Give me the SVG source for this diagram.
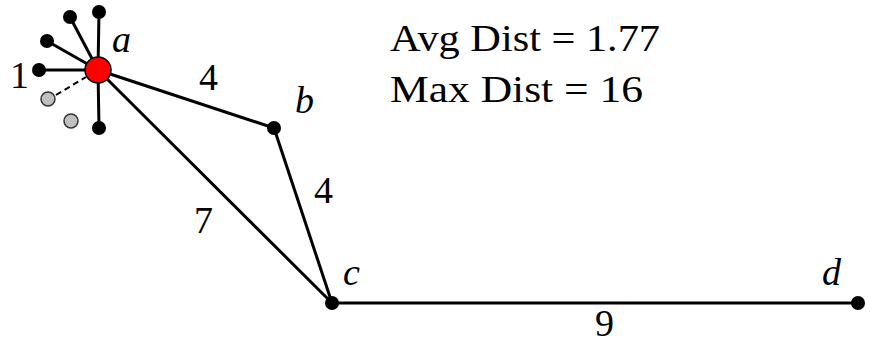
<svg xmlns="http://www.w3.org/2000/svg" width="870" height="343" viewBox="0 0 870 343">
<style>
.e{stroke:#000;stroke-width:3;fill:none}
.d{stroke:#000;stroke-width:2;stroke-dasharray:6,4;fill:none}
.n{fill:#000}
.g{fill:#c0c0c0;stroke:#333;stroke-width:1.5}
.t{font-family:"Liberation Serif",serif;font-size:38px;fill:#000}
.i{font-family:"Liberation Serif",serif;font-style:italic;font-size:38px;fill:#000}
</style>
<rect width="870" height="343" fill="#fff"/>
<g id="connectors">
<line class="e" x1="98" y1="70" x2="274" y2="128"/>
<line class="e" x1="98" y1="70" x2="332" y2="303"/>
<line class="e" x1="274" y1="128" x2="332" y2="303"/>
<line class="e" x1="332" y1="303" x2="858" y2="303"/>
<line class="e" x1="98" y1="70" x2="99" y2="12"/>
<line class="e" x1="98" y1="70" x2="70" y2="17"/>
<line class="e" x1="98" y1="70" x2="47" y2="41"/>
<line class="e" x1="98" y1="70" x2="39" y2="70"/>
<line class="e" x1="98" y1="70" x2="99" y2="128"/>
<line class="d" x1="56" y1="95" x2="86" y2="77"/>
</g>
<g id="leaf1"><circle class="n" cx="99" cy="12" r="7"/></g>
<g id="leaf2"><circle class="n" cx="70" cy="17" r="7"/></g>
<g id="leaf3"><circle class="n" cx="47" cy="41" r="7"/></g>
<g id="leaf4"><circle class="n" cx="39" cy="70" r="7"/><text class="t" x="10" y="88">1</text></g>
<g id="leaf5"><circle class="n" cx="99" cy="128" r="7"/></g>
<g id="gray1"><circle class="g" cx="48" cy="99" r="7"/></g>
<g id="gray2"><circle class="g" cx="71" cy="121" r="7"/></g>
<g id="a"><circle cx="98" cy="70" r="13" fill="#f00" stroke="#000" stroke-width="1.5"/><text class="i" x="112" y="52">a</text></g>
<g id="b"><circle class="n" cx="274" cy="128" r="7"/><text class="i" x="295" y="113">b</text></g>
<g id="c"><circle class="n" cx="332" cy="303" r="7"/><text class="i" x="343" y="285">c</text></g>
<g id="d"><circle class="n" cx="858" cy="303" r="7"/><text class="i" x="822" y="285">d</text></g>
<g id="labels">
<text class="t" x="199" y="90">4</text>
<text class="t" x="314" y="203">4</text>
<text class="t" x="194" y="233">7</text>
<text class="t" x="595" y="336">9</text>
<text class="t" x="390" y="51" textLength="270" lengthAdjust="spacingAndGlyphs">Avg Dist = 1.77</text>
<text class="t" x="390" y="102" textLength="253" lengthAdjust="spacingAndGlyphs">Max Dist = 16</text>
</g>
</svg>
